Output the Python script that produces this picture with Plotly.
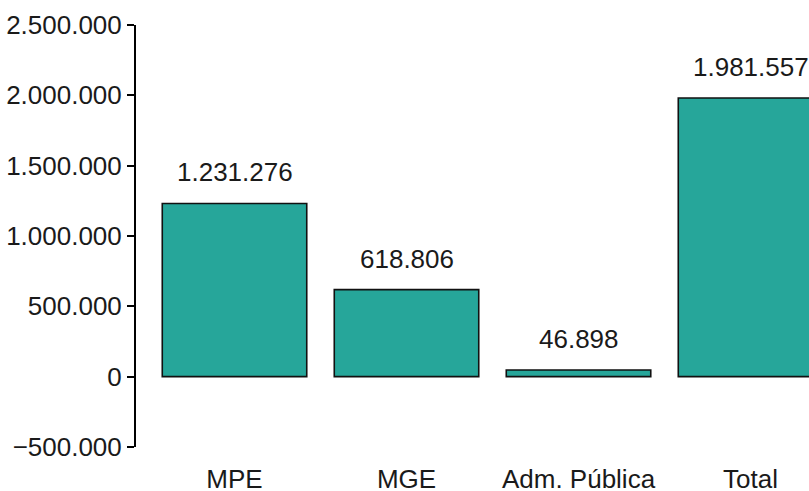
import plotly.graph_objects as go

categories = ["MPE", "MGE", "Adm. Pública", "Total"]
values = [1231276, 618806, 46898, 1981557]
value_labels = ["1.231.276", "618.806", "46.898", "1.981.557"]
tick_vals = [-500000, 0, 500000, 1000000, 1500000, 2000000, 2500000]
tick_text = ["\u2212500.000", "0", "500.000", "1.000.000", "1.500.000", "2.000.000", "2.500.000"]

FONT = "Liberation Sans, Arial, sans-serif"
FS = 26

fig = go.Figure()
fig.add_trace(go.Bar(
    x=list(range(len(categories))),
    y=values,
    width=0.84,
    marker=dict(color="#26A69A", line=dict(color="#111111", width=1.6)),
    hoverinfo="skip",
))

for i, (v, t) in enumerate(zip(values, value_labels)):
    fig.add_annotation(x=i, y=v, text=t, showarrow=False, yanchor="bottom",
                       yshift=14, font=dict(family=FONT, size=FS, color="#1a1a1a"))

fig.update_layout(
    width=809, height=491,
    margin=dict(l=136, r=0, t=25, b=44, autoexpand=False),
    plot_bgcolor="white", paper_bgcolor="white",
    showlegend=False,
    font=dict(family=FONT, size=FS, color="#1a1a1a"),
)
fig.update_xaxes(
    range=[-0.5727, 3.340],
    tickvals=list(range(len(categories))),
    ticktext=categories,
    showline=False, showgrid=False, zeroline=False, ticks="",
    ticklabelstandoff=14, automargin=False,
    tickfont=dict(family=FONT, size=FS, color="#1a1a1a"),
)
fig.update_yaxes(
    range=[-500000, 2500000],
    tickvals=tick_vals, ticktext=tick_text,
    showline=True, linecolor="black", linewidth=2,
    ticks="outside", ticklen=7, tickwidth=2, tickcolor="black",
    showgrid=False, zeroline=False,
    ticklabelstandoff=0, automargin=False,
    tickfont=dict(family=FONT, size=FS, color="#1a1a1a"),
)

fig.write_html(
    "out.html",
    config={"displayModeBar": False},
    post_script="document.body.style.margin='0';document.body.style.overflow='hidden';",
)
